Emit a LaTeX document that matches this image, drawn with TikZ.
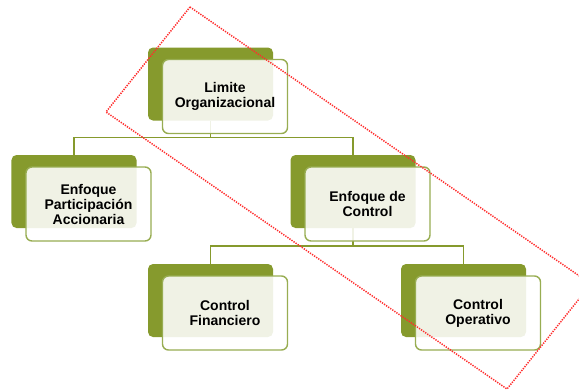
\documentclass[tikz,border=0pt]{standalone}
\usepackage{fontspec}
\setmainfont{Liberation Sans}
\usetikzlibrary{calc,positioning}
\definecolor{leafgreen}{RGB}{134,154,45}
\definecolor{rimgreen}{RGB}{152,173,82}
\definecolor{boxfill}{RGB}{255,255,255}
\definecolor{markred}{RGB}{255,45,45}
\tikzset{
	>=latex,
	backbox/.style={fill=leafgreen, rounded corners=5bp, minimum width=125bp,
		minimum height=73bp, inner sep=0pt},
	frontbox/.style={draw=rimgreen, line width=1.4bp, fill=boxfill, fill opacity=0.88,
		text opacity=1, rounded corners=6bp, minimum width=125bp, minimum height=74bp,
		inner sep=0pt, align=center, font=\bfseries\fontsize{14bp}{15bp}\selectfont},
	link/.style={draw=leafgreen, line width=1.3bp},
	focus/.style={draw=markred, line width=1.5bp, dash pattern=on 1.3bp off 1.2bp}
}
\begin{document}
\begin{tikzpicture}[x=1bp,y=-1bp]
	% size of the reference picture
	\useasboundingbox (0,0) rectangle (579,391);
	
	% green back boxes
	\foreach \nm/\x/\y in {lim/210.5/84, acc/74/191.5, ctl/353/191.5,
		fin/210.5/300.5, ope/463.5/300.5}{
		\node[backbox] (\nm-b) at (\x,\y) {};
	}
	
	% connectors (behind the front boxes)
	\foreach \p/\c in {lim/acc, lim/ctl, ctl/fin, ctl/ope}{
		\draw[link] (\p-b.south) |- ($(\p-b.south)!.5!(\c-b.north)$) -| (\c-b.north);
	}
	
	% front boxes with the texts
	\foreach \nm/\txt in {lim/{Limite\\Organizacional},
		acc/{Enfoque\\Participación\\Accionaria},
		ctl/{Enfoque de\\Control},
		fin/{Control\\Financiero},
		ope/{Control\\Operativo}}{
		\node[frontbox] (\nm) at ($(\nm-b)+(14.5,12.5)$) {\txt};
	}
	
	% dotted frame round the control branch
	\draw[focus] (190,7) -- (591,284) -- (507,389) -- (106,112) -- cycle;
\end{tikzpicture}
\end{document}
